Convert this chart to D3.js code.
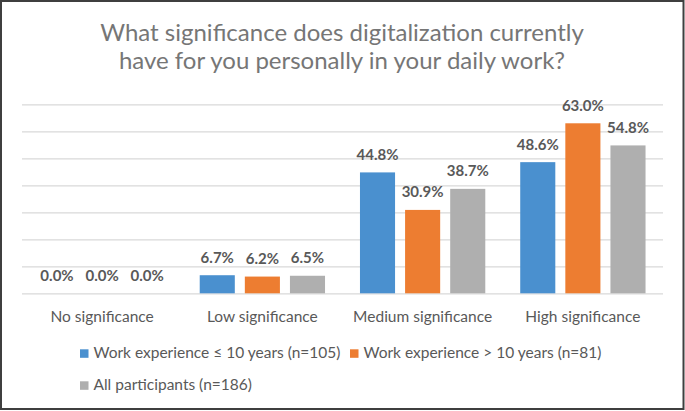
<!DOCTYPE html>
<html>
<head>
<meta charset="utf-8">
<script src="https://cdn.jsdelivr.net/npm/d3@7"></script>
<style>
  html, body { margin: 0; padding: 0; background: #fff; }
  svg { display: block; font-family: Lato, "Open Sans", sans-serif; }
</style>
</head>
<body>
<svg id="chart" width="685" height="411"></svg>
<script>
const titleLines = ["What significance does digitalization currently", "have for you personally in your daily work?"];
const categories = ["No significance", "Low significance", "Medium significance", "High significance"];
const seriesNames = ["Work experience \u2264 10 years (n=105)", "Work experience > 10 years (n=81)", "All participants (n=186)"];
const seriesShort = ["le10", "gt10", "all"];
const valuesLe10 = [0.0, 6.7, 44.8, 48.6];
const valuesGt10 = [0.0, 6.2, 30.9, 63.0];
const valuesAll = [0.0, 6.5, 38.7, 54.8];
const yTicks = [0, 10, 20, 30, 40, 50, 60, 70];
const colors = ["#4a90cf", "#ed7d31", "#afafaf"];

const seriesValues = [valuesLe10, valuesGt10, valuesAll];
const svg = d3.select("#chart");

// border
svg.append("rect").attr("x", 1).attr("y", 1).attr("width", 682.5).attr("height", 408)
  .attr("fill", "#fff").attr("stroke", "#3f3f3f").attr("stroke-width", 2);

// title (one text element, two lines)
const title = svg.append("text")
  .attr("text-anchor", "middle").attr("fill", "#767676")
  .attr("font-size", 24).attr("y", 41);
title.selectAll("tspan").data(titleLines).join("tspan")
  .attr("x", 342).attr("dy", (d, i) => i === 0 ? 0 : 28)
  .text(d => d);

const x0 = d3.scaleBand().domain(categories).range([22, 663]).paddingInner(0.218).paddingOuter(0.109);
const x1 = d3.scaleBand().domain(seriesShort).range([0, x0.bandwidth()]).paddingInner(0.2222).paddingOuter(0);
const y = d3.scaleLinear().domain([0, 70]).range([293.3, 104.4]);

// gridlines
const grid = svg.append("g").attr("transform", "translate(22,0)")
  .call(d3.axisLeft(y).tickValues(yTicks).tickSize(-641).tickFormat(""));
grid.select(".domain").remove();
grid.selectAll("line").attr("stroke", "#d9d9d9").attr("stroke-width", 1.3);

// bars
const groups = svg.append("g").selectAll("g").data(categories).join("g")
  .attr("transform", c => `translate(${x0(c)},0)`);

groups.selectAll("rect").data((c, ci) => seriesShort.map((s, si) => ({s, si, v: seriesValues[si][ci]})))
  .join("rect")
  .attr("x", d => x1(d.s)).attr("width", x1.bandwidth())
  .attr("y", d => y(d.v)).attr("height", d => y(0) - y(d.v))
  .attr("fill", d => colors[d.si]);

groups.selectAll("text").data((c, ci) => seriesShort.map((s, si) => ({s, si, v: seriesValues[si][ci]})))
  .join("text")
  .attr("x", d => x1(d.s) + x1.bandwidth() / 2).attr("y", d => y(d.v) - 12.5)
  .attr("text-anchor", "middle").attr("font-size", 15).attr("font-weight", "bold")
  .attr("fill", "#595959").text(d => d.v.toFixed(1) + "%");

// category labels
svg.append("g").selectAll("text").data(categories).join("text")
  .attr("x", c => x0(c) + x0.bandwidth() / 2).attr("y", 321.5)
  .attr("text-anchor", "middle").attr("font-size", 15.5).attr("fill", "#595959").text(c => c);

// legend
const legendPos = [[80, 358.3], [350, 358.3], [80, 390.3]];
const leg = svg.append("g").selectAll("g").data(seriesNames).join("g")
  .attr("transform", (d, i) => `translate(${legendPos[i][0]},${legendPos[i][1]})`);
leg.append("rect").attr("x", 0).attr("y", -9).attr("width", 8.5).attr("height", 8.5)
  .attr("fill", (d, i) => colors[i]);
leg.append("text").attr("x", 13.5).attr("y", 0).attr("font-size", 15.5).attr("fill", "#595959").text(d => d);
</script>
</body>
</html>
